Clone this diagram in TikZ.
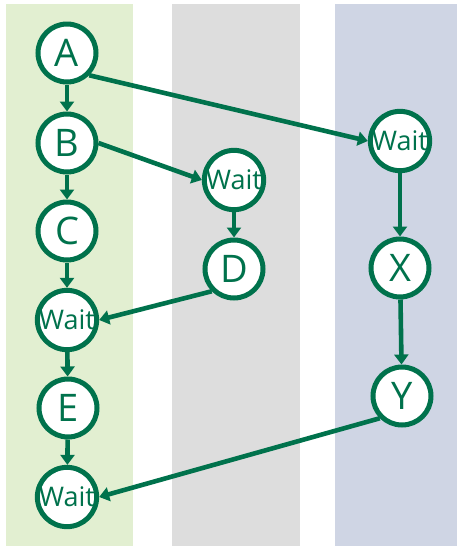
\documentclass[tikz,border=0pt]{standalone}
\usepackage{fontspec}
\setmainfont{Open Sans}
\usetikzlibrary{arrows.meta}
\definecolor{flow}{RGB}{0,114,76}
\definecolor{laneA}{RGB}{226,239,209}
\definecolor{laneB}{RGB}{221,221,221}
\definecolor{laneC}{RGB}{207,213,228}
\tikzset{
  task/.style={circle, draw=flow, fill=white, line width=5pt,
    minimum size=58pt, inner sep=0pt, text=flow, font=\fontsize{38}{38}\selectfont},
  waitnode/.style={task, font=\fontsize{27}{27}\selectfont},
  link/.style={draw=flow, line width=4.6pt, -{Triangle[width=14pt,length=10pt]}},
}
\begin{document}
\begin{tikzpicture}[x=1pt,y=-1pt]
  \useasboundingbox (0,0) rectangle (457,547);
  % swim lanes
  \fill[laneA] (6,4) rectangle (133,546);
  \fill[laneB] (172,4) rectangle (300,546);
  \fill[laneC] (335,4) rectangle (457,546);
  % first lane
  \node[task] (A) at (67,53) {A};
  \node[task] (B) at (67,143) {B};
  \node[task] (C) at (67,231) {C};
  \node[waitnode] (W1) at (67,320) {Wait};
  \node[task] (E) at (68,408) {E};
  \node[waitnode] (W2) at (67,497) {Wait};
  % second lane
  \node[waitnode] (WG) at (234,180) {Wait};
  \node[task] (D) at (234,269) {D};
  % third lane
  \node[waitnode] (WB) at (400,141) {Wait};
  \node[task] (X) at (400,268) {X};
  \node[task] (Y) at (402,396) {Y};
  % connectors
  \draw[link] (A) -- (B);
  \draw[link] (B) -- (C);
  \draw[link] (C) -- (W1);
  \draw[link] (W1) -- (E);
  \draw[link] (E) -- (W2);
  \draw[link] (A.south east) -- (WB.west);
  \draw[link] (B.east) -- (WG.west);
  \draw[link] (WG) -- (D);
  \draw[link] (D.south west) -- (W1.east);
  \draw[link] (WB) -- (X);
  \draw[link] (X) -- (Y);
  \draw[link] (Y.south west) -- (W2.east);
\end{tikzpicture}
\end{document}
